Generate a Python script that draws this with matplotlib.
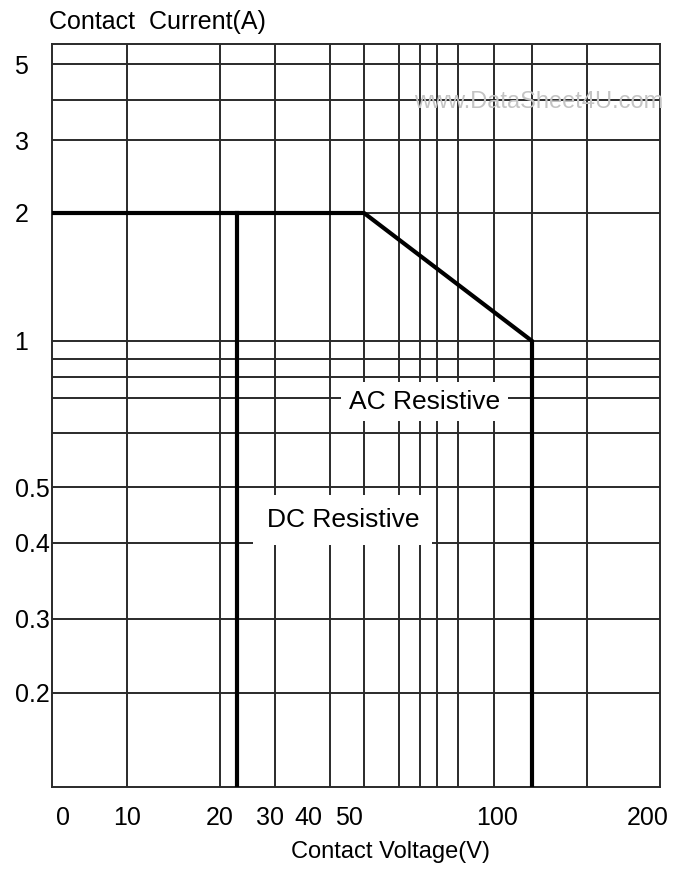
import numpy as np
import matplotlib
matplotlib.use("Agg")
import matplotlib.pyplot as plt
from matplotlib.transforms import ScaledTranslation

plt.rcParams['font.family'] = ['Liberation Sans', 'DejaVu Sans']

# Werte aus dem Diagramm
spannung_gitter = [10, 20, 30, 40, 50, 60, 70, 80, 90, 100, 125, 150]
strom_gitter = [0.2, 0.3, 0.4, 0.5, 0.6, 0.7, 0.8, 0.9, 1, 2, 3, 4, 5]
spannung_ticks = [0, 10, 20, 30, 40, 50, 100, 200]
strom_ticks = [0.2, 0.3, 0.4, 0.5, 1, 2, 3, 5]
strom_labels = ["0.2", "0.3", "0.4", "0.5", "1", "2", "3", "5"]

ac_spannung = [0, 50, 125, 125]
ac_strom = [2, 2, 1, 0.1]
dc_spannung = [23, 23]
dc_strom = [2, 0.1]

# Die Skalen des gedruckten Diagramms sind weder linear noch logarithmisch,
# daher eine stueckweise Skala (Wert -> relative Lage auf der Achse)
x_werte = [0, 10, 20, 30, 40, 50, 60, 70, 80, 90, 100, 125, 150, 200]
x_lage = [0, 75, 168, 223, 278, 312, 347, 368, 385, 406, 442, 480, 535, 608]
y_werte = [0.1, 0.2, 0.3, 0.4, 0.5, 0.6, 0.7, 0.8, 0.9, 1, 2, 3, 4, 5, 6]
y_lage = [0, 94, 168, 244, 300, 354, 389, 410, 428, 446, 574, 647, 687, 723, 743]


def x_hin(v):
    return np.interp(v, x_werte, x_lage)


def x_rueck(p):
    return np.interp(p, x_lage, x_werte)


def y_hin(v):
    return np.interp(v, y_werte, y_lage)


def y_rueck(p):
    return np.interp(p, y_lage, y_werte)


fig = plt.figure(figsize=(6.89, 8.74), dpi=100)
ax = fig.add_axes([52 / 689, 1 - 787 / 874, 608 / 689, 743 / 874])
ax.set_xscale('function', functions=(x_hin, x_rueck))
ax.set_yscale('function', functions=(y_hin, y_rueck))
ax.set_xlim(0, 200)
ax.set_ylim(0.1, 6)

gitterfarbe = "#2a2a2a"
for v in spannung_gitter:
    ax.axvline(v, color=gitterfarbe, lw=1.4, zorder=1)
for s in strom_gitter:
    ax.axhline(s, color=gitterfarbe, lw=1.4, zorder=1)
for sp in ax.spines.values():
    sp.set_color(gitterfarbe)
    sp.set_linewidth(1.4)

# Kennlinien
ax.plot(ac_spannung, ac_strom, color="black", lw=3, zorder=3,
        solid_joinstyle="miter")
ax.plot(dc_spannung, dc_strom, color="black", lw=3, zorder=3)

# Beschriftungen in weissen Kaesten, die das Gitter unterbrechen
ax.text(72.4, 0.69, "AC Resistive", fontsize=19, ha="center", va="center",
        zorder=4, bbox=dict(boxstyle="square,pad=0.3", facecolor="white",
                            edgecolor="none"))
ax.text(43.8, 0.441, "DC Resistive", fontsize=19, ha="center", va="center",
        zorder=4, bbox=dict(boxstyle="square,pad=0.5", facecolor="white",
                            edgecolor="none"))

fig.text(539 / 689, 1 - 102 / 874, "www.DataSheet4U.com", fontsize=17,
         color="#c4c4c4", ha="center", va="center", zorder=5)

# Achsenbeschriftung
ax.set_xticks(spannung_ticks)
ax.set_xticklabels([str(v) for v in spannung_ticks], fontsize=18)
ax.set_yticks(strom_ticks)
ax.set_yticklabels(strom_labels, fontsize=18)
ax.minorticks_off()
ax.tick_params(axis="x", length=0, pad=14)
ax.tick_params(axis="y", length=0, pad=27)
for lab in ax.get_yticklabels():
    lab.set_horizontalalignment("left")

verschiebung = {"0": 11, "30": -5, "40": -22, "50": -15, "100": 3, "200": -12}
for lab in ax.get_xticklabels():
    dx = verschiebung.get(lab.get_text(), 0)
    lab.set_transform(lab.get_transform() + ScaledTranslation(dx / 100, 0, fig.dpi_scale_trans))

fig.text(49 / 689, 1 - 22 / 874, "Contact  Current(A)", fontsize=18,
         ha="left", va="center")
fig.text(391 / 689, 1 - 852 / 874, "Contact Voltage(V)", fontsize=17,
         ha="center", va="center")

fig.savefig("out.png", dpi=100, facecolor="white")
